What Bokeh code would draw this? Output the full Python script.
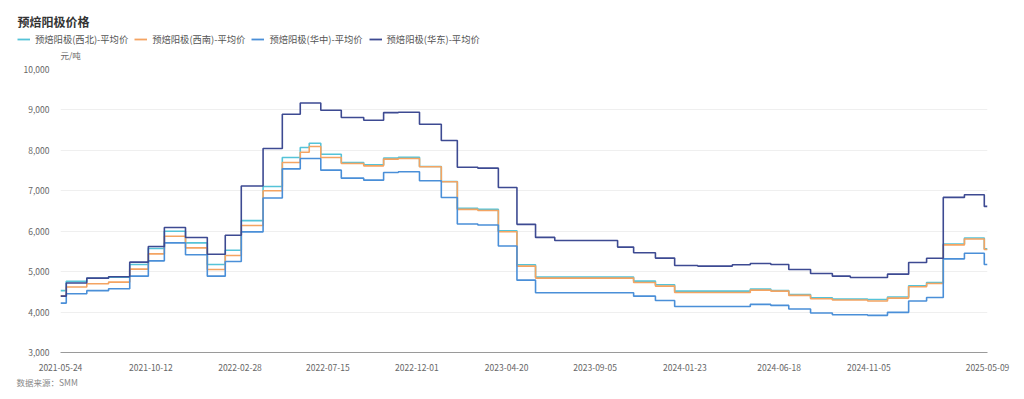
import pandas as pd
from bokeh.plotting import figure
from bokeh.layouts import column
from bokeh.models import (Range1d, FixedTicker, DatetimeTickFormatter, NumeralTickFormatter,
                          Legend, LegendItem, Title, Label, SingleIntervalTicker)
from bokeh.embed import file_html
from bokeh.resources import INLINE

# ---------------- data ----------------
dates = [
    "2021-05-24", "2021-06-02", "2021-07-04", "2021-08-07", "2021-09-09", "2021-10-08", "2021-11-02", "2021-12-05",
    "2022-01-08", "2022-02-05", "2022-03-02", "2022-04-05", "2022-05-05", "2022-06-02", "2022-06-16", "2022-07-04",
    "2022-08-05", "2022-09-09", "2022-10-10", "2022-11-02", "2022-12-05", "2023-01-08", "2023-02-02", "2023-03-06",
    "2023-04-07", "2023-05-06", "2023-06-04", "2023-07-04", "2023-10-10", "2023-11-04", "2023-12-08", "2024-01-07",
    "2024-02-12", "2024-04-06", "2024-05-04", "2024-06-05", "2024-07-03", "2024-08-06", "2024-09-09", "2024-10-07",
    "2024-11-03", "2024-12-04", "2025-01-06", "2025-02-03", "2025-03-01", "2025-04-03", "2025-05-04", "2025-05-09",
]

northwest = [4530, 4760, 4835, 4865, 5177, 5572, 6000, 5712,
             5177, 5531, 6263, 7107, 7823, 8070, 8177, 7905,
             7700, 7642, 7807, 7831, 7601, 7230, 6564, 6539,
             6012, 5170, 4865, 4865, 4865, 4766, 4675, 4518,
             4518, 4518, 4568, 4535, 4436, 4354, 4321, 4321,
             4310, 4371, 4650, 4732, 5685, 5833, 5562, 5562]

southwest = [4400, 4620, 4700, 4741, 5062, 5440, 5877, 5588,
             5053, 5399, 6140, 7000, 7700, 7955, 8095, 7823,
             7675, 7617, 7782, 7798, 7593, 7222, 6539, 6514,
             5988, 5137, 4840, 4840, 4840, 4733, 4642, 4485,
             4485, 4485, 4543, 4519, 4412, 4330, 4297, 4297,
             4272, 4346, 4626, 4708, 5661, 5809, 5546, 5546]

central = [4222, 4455, 4530, 4576, 4889, 5267, 5712, 5416,
           4889, 5251, 5984, 6820, 7543, 7798, 7798, 7510,
           7313, 7263, 7453, 7470, 7247, 6835, 6177, 6152,
           5634, 4790, 4477, 4477, 4477, 4394, 4287, 4139,
           4139, 4139, 4190, 4165, 4075, 3976, 3935, 3935,
           3919, 3993, 4272, 4362, 5316, 5455, 5176, 5176]

east = [4395, 4720, 4840, 4872, 5235, 5621, 6091, 5844,
        5432, 5901, 7120, 8045, 8893, 9173, 9173, 8992,
        8811, 8745, 8934, 8942, 8646, 8243, 7584, 7560,
        7082, 6170, 5847, 5772, 5607, 5467, 5335, 5153,
        5137, 5170, 5200, 5176, 5053, 4954, 4888, 4855,
        4855, 4938, 5225, 5332, 6836, 6901, 6614, 6614]

series_names = ["预焙阳极(西北)-平均价", "预焙阳极(西南)-平均价", "预焙阳极(华中)-平均价", "预焙阳极(华东)-平均价"]
series_values = [northwest, southwest, central, east]
series_colors = ["#55c3d8", "#f4a462", "#4a8fd8", "#3d4a92"]

tick_labels = ["2021-05-24", "2021-10-12", "2022-02-28", "2022-07-15", "2022-12-01", "2023-04-20",
               "2023-09-05", "2024-01-23", "2024-06-18", "2024-11-05", "2025-05-09"]

title_text = "预焙阳极价格"
unit_text = "元/吨"
source_text = "数据来源：SMM"

FONT = "Noto Sans CJK SC"
HEADER_H = 62

# ---------------- header (title, legend, unit) ----------------
head = figure(width=1024, height=HEADER_H, x_range=Range1d(0, 1024), y_range=Range1d(HEADER_H, 0),
              x_axis_type=None, y_axis_type=None, output_backend="svg", toolbar_location=None,
              min_border_left=0, min_border_right=0, min_border_top=0, min_border_bottom=0)
head.frame_align = False
head.outline_line_color = None
head.xgrid.visible = False
head.ygrid.visible = False
head.background_fill_color = "white"
head.border_fill_color = "white"

# legend key renderers (hold no drawable data; they only supply the legend swatches)
key_renderers = []
for col in series_colors:
    key_renderers.append(head.line(x=[float("nan")], y=[float("nan")], line_color=col, line_width=1.8))

legend = Legend(items=[LegendItem(label=n, renderers=[r]) for n, r in zip(series_names, key_renderers)],
                orientation="horizontal", location=(17, 16), padding=0, margin=0,
                border_line_alpha=0, background_fill_alpha=0,
                glyph_width=13, glyph_height=12, label_standoff=5, spacing=6, label_height=12,
                label_text_font=FONT, label_text_font_size="9.3px", label_text_color="#555555")
head.add_layout(legend)

head.add_layout(Label(x=17, y=21, text=title_text, text_font=FONT, text_font_size="12px",
                      text_font_style="bold", text_color="#333333",
                      text_baseline="middle", text_align="left"))
head.add_layout(Label(x=60, y=54, text=unit_text, text_font=FONT, text_font_size="8.5px",
                      text_color="#666666", text_baseline="middle", text_align="left"))

# ---------------- main chart ----------------
x = pd.to_datetime(dates)
x_ticks = pd.to_datetime(tick_labels)

p = figure(width=1024, height=399 - HEADER_H, x_axis_type="datetime",
           x_range=Range1d(x_ticks[0], x_ticks[-1]), y_range=Range1d(3000, 10000),
           output_backend="svg", toolbar_location=None,
           min_border_left=60, min_border_right=37, min_border_top=69 - HEADER_H, min_border_bottom=47)
p.frame_align = False
p.outline_line_color = None
p.background_fill_color = "white"
p.border_fill_color = "white"

for vals, col in zip(series_values, series_colors):
    p.step(x=x, y=vals, mode="after", line_color=col, line_width=1.6)

p.xaxis.ticker = FixedTicker(ticks=[t.value // 10**6 for t in x_ticks])
fmt = "%Y-%m-%d"
p.xaxis.formatter = DatetimeTickFormatter(microseconds=fmt, milliseconds=fmt, seconds=fmt, minsec=fmt,
                                          minutes=fmt, hourmin=fmt, hours=fmt, days=fmt, months=fmt, years=fmt)
p.xaxis.axis_line_color = "#9a9a9a"
p.xaxis.axis_line_width = 1
p.xaxis.major_tick_line_color = None
p.xaxis.minor_tick_line_color = None
p.xaxis.major_label_standoff = 5
p.xaxis.major_label_text_font = FONT
p.xaxis.major_label_text_font_size = "8.5px"
p.xaxis.major_label_text_color = "#666666"

p.yaxis.ticker = SingleIntervalTicker(interval=1000)
p.yaxis.formatter = NumeralTickFormatter(format="0,0")
p.yaxis.axis_line_color = None
p.yaxis.major_tick_line_color = None
p.yaxis.minor_tick_line_color = None
p.yaxis.major_label_standoff = 5
p.yaxis.major_label_text_font = FONT
p.yaxis.major_label_text_font_size = "8.5px"
p.yaxis.major_label_text_color = "#666666"

p.xgrid.grid_line_color = None
p.ygrid.grid_line_color = "#efefef"
p.ygrid.grid_line_width = 1

p.add_layout(Title(text=source_text, align="left", offset=-44, standoff=0,
                   text_font=FONT, text_font_size="8.5px", text_font_style="normal",
                   text_color="#888888"), "below")

layout = column(head, p, spacing=0)
open("out.html", "w").write(file_html(layout, INLINE))
